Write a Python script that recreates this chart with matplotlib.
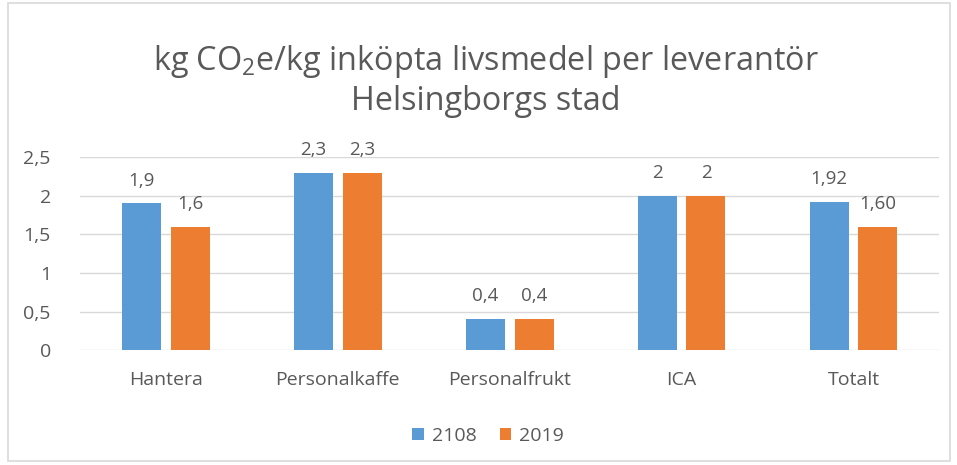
import numpy as np
import matplotlib.pyplot as plt
from matplotlib.patches import Rectangle

categories = ['Hantera', 'Personalkaffe', 'Personalfrukt', 'ICA', 'Totalt']
values_2108 = [1.9, 2.3, 0.4, 2.0, 1.92]
values_2019 = [1.6, 2.3, 0.4, 2.0, 1.60]
labels_2108 = ['1,9', '2,3', '0,4', '2', '1,92']
labels_2019 = ['1,6', '2,3', '0,4', '2', '1,60']
yticks = [0, 0.5, 1, 1.5, 2, 2.5]
ytick_labels = ['0', '0,5', '1', '1,5', '2', '2,5']

plt.rcParams['font.family'] = ['Open Sans', 'DejaVu Sans']
plt.rcParams['mathtext.fontset'] = 'custom'
plt.rcParams['mathtext.rm'] = 'Open Sans'
plt.rcParams['mathtext.it'] = 'Open Sans:italic'
txt = '#595959'

fig = plt.figure(figsize=(9.57, 4.65), dpi=100)
fig.patches.append(Rectangle((0.008, 0.008), 0.985, 0.985, transform=fig.transFigure,
                             fill=False, edgecolor='#d9d9d9', lw=1.2))
ax = fig.add_axes([0.0836, 0.247, 0.898, 0.415])

x = np.arange(len(categories))
w = 0.227
off = 0.142
b1 = ax.bar(x - off, values_2108, w, color='#5B9BD5', label='2108', zorder=3)
b2 = ax.bar(x + off, values_2019, w, color='#ED7D31', label='2019', zorder=3)
ax.bar_label(b1, labels=labels_2108, padding=10, fontsize=13.5, color=txt)
ax.bar_label(b2, labels=labels_2019, padding=10, fontsize=13.5, color=txt)

ax.set_xlim(-0.5, len(categories) - 0.5)
ax.set_ylim(0, 2.5)
ax.set_yticks(yticks)
ax.set_yticklabels(ytick_labels)
ax.set_xticks(x)
ax.set_xticklabels(categories)
ax.tick_params(axis='both', length=0, labelsize=14, colors=txt)
ax.tick_params(axis='y', pad=21)
ax.tick_params(axis='x', pad=15)
ax.grid(axis='y', color='#d9d9d9', lw=1, zorder=0)
for s in ax.spines.values():
    s.set_visible(False)

fig.text(0.508, 0.826, r'kg CO$_\mathrm{2}$e/kg inköpta livsmedel per leverantör' + '\nHelsingborgs stad',
         ha='center', va='center', fontsize=23.3, color=txt, linespacing=1.2)

fig.legend(loc='center', bbox_to_anchor=(0.51, 0.062), ncol=2, frameon=False,
           fontsize=14, labelcolor=txt, handlelength=0.6, handleheight=0.6,
           handletextpad=0.4, columnspacing=1.2)

fig.savefig('out.png', dpi=100)
